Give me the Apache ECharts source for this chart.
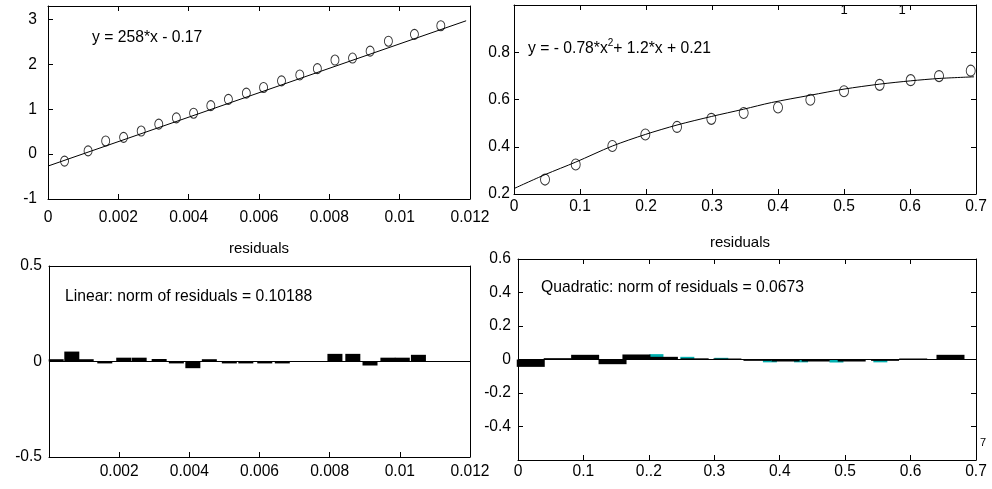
<!DOCTYPE html>
<html><head><meta charset="utf-8">
<script src="https://cdn.jsdelivr.net/npm/echarts@6/dist/echarts.min.js"></script>
<style>html,body{margin:0;padding:0;background:#fff}#c{width:992px;height:489px}</style>
</head><body><div id="c"></div>
<script>
// ---- Data ----
// Top-left: linear fit
const tlX = [0.00047, 0.00114, 0.00164, 0.00215, 0.00265, 0.00315, 0.00365, 0.00414, 0.00463, 0.00513, 0.00564, 0.00613, 0.00664, 0.00716, 0.00766, 0.00816, 0.00866, 0.00916, 0.00968, 0.01042, 0.01117];
const tlY = [-0.156, 0.072, 0.293, 0.374, 0.514, 0.668, 0.808, 0.911, 1.080, 1.220, 1.360, 1.485, 1.632, 1.764, 1.904, 2.096, 2.140, 2.294, 2.515, 2.669, 2.861];
const tlFitX = [0, 0.01189];
const tlFitY = [-0.266, 2.971];
// Top-right: quadratic fit
const trX = [0.047, 0.0935, 0.149, 0.199, 0.247, 0.299, 0.348, 0.400, 0.449, 0.500, 0.554, 0.601, 0.644, 0.692];
const trY = [0.261, 0.325, 0.403, 0.452, 0.484, 0.518, 0.543, 0.566, 0.599, 0.635, 0.662, 0.682, 0.699, 0.722];
const trFitX = [0, 0.047, 0.0935, 0.149, 0.199, 0.247, 0.299, 0.348, 0.390, 0.449, 0.500, 0.554, 0.601, 0.644, 0.697];
const trFitY = [0.223, 0.282, 0.335, 0.403, 0.452, 0.492, 0.528, 0.559, 0.587, 0.618, 0.644, 0.665, 0.679, 0.689, 0.696];
// Bottom-left: linear residuals
const blX = [0.000205, 0.00065, 0.00106, 0.00159, 0.00213, 0.00257, 0.00314, 0.00363, 0.0041, 0.00457, 0.00514, 0.00561, 0.00615, 0.00665, 0.00815, 0.00866, 0.00915, 0.00966, 0.01007, 0.01053];
const blY = [0.012, 0.052, 0.012, -0.01, 0.02, 0.02, 0.013, -0.01, -0.035, 0.012, -0.01, -0.01, -0.01, -0.01, 0.04, 0.04, -0.021, 0.02, 0.02, 0.035];
// Bottom-right: quadratic residuals (black) and overlapping cyan bars
const brX = [0.0195, 0.0607, 0.1026, 0.1445, 0.181, 0.223, 0.270, 0.320, 0.366, 0.409, 0.455, 0.510, 0.561, 0.604, 0.661];
const brY = [-0.044, 0.008, 0.028, -0.028, 0.03, 0.016, 0.007, 0.006, -0.008, -0.012, -0.012, -0.012, -0.008, 0.006, 0.028];
const brCyanX = [0.2116, 0.2588, 0.3107, 0.385, 0.4326, 0.4867, 0.5538, 0.6624];
const brCyanY = [0.032, 0.016, 0.01, -0.017, -0.017, -0.018, -0.017, 0.012];
// Tick labels
const brXTickLabels = ['0', '0.1', '0..2', '0.3', '0.4', '0.5', '0.6', '0.7'];
// Texts
const tlEquation = 'y = 258*x - 0.17';
const trEquation = 'y = - 0.78*x{sup|2}+ 1.2*x + 0.21';
const blNorm = 'Linear: norm of residuals = 0.10188';
const brNorm = 'Quadratic: norm of residuals = 0.0673';
const resTitle = 'residuals';

const FONT = '"Liberation Sans", Arial, Helvetica, sans-serif';
const zip = (a, b) => a.map((v, i) => [v, b[i]]);

function ax(o) {
  return Object.assign({
    type: 'value',
    axisLine: { show: true, onZero: false, lineStyle: { color: '#000', width: 1 } },
    splitLine: { show: false }
  }, o, {
    axisTick: Object.assign({ show: true, inside: true, length: 5, lineStyle: { color: '#000' } }, o.axisTick || {}),
    axisLabel: Object.assign({ show: true, color: '#000', fontSize: 15.6, fontFamily: FONT }, o.axisLabel || {})
  });
}

const zeroLine = {
  silent: true, symbol: ['none', 'none'], label: { show: false },
  lineStyle: { color: '#000', width: 1, type: 'solid' },
  data: [{ yAxis: 0 }]
};

const option = {
  animation: false,
  backgroundColor: '#fff',
  grid: [
    { left: 48, right: 522, top: 6, bottom: 290 },
    { left: 514, right: 16, top: 5, bottom: 295 },
    { left: 49, right: 522, top: 266, bottom: 32 },
    { left: 518, right: 16, top: 259, bottom: 29 }
  ],
  xAxis: [
    ax({ gridIndex: 0, position: 'bottom', min: 0, max: 0.012, interval: 0.002, axisLabel: { margin: 11 } }),
    ax({ gridIndex: 0, position: 'top', min: 0, max: 0.012, interval: 0.002, axisLabel: { show: false } }),
    ax({ gridIndex: 1, position: 'bottom', min: 0, max: 0.7, interval: 0.1, axisLabel: { margin: 5 } }),
    ax({ gridIndex: 1, position: 'top', min: 0, max: 0.7, interval: 0.1, axisLabel: { show: false } }),
    ax({ gridIndex: 2, position: 'bottom', min: 0, max: 0.012, interval: 0.002, axisLabel: { margin: 7, showMinLabel: false } }),
    ax({ gridIndex: 2, position: 'top', min: 0, max: 0.012, interval: 0.002, axisTick: { show: false }, axisLabel: { show: false } }),
    ax({ gridIndex: 3, position: 'bottom', min: 0, max: 0.7, interval: 0.1,
         axisLabel: { margin: 4, formatter: v => brXTickLabels[Math.round(v * 10)] } }),
    ax({ gridIndex: 3, position: 'top', min: 0, max: 0.7, interval: 0.1, axisLabel: { show: false } })
  ],
  yAxis: [
    ax({ gridIndex: 0, position: 'left', min: -1, max: 3.3, interval: 1, axisLabel: { margin: 11, showMaxLabel: false } }),
    ax({ gridIndex: 0, position: 'right', min: -1, max: 3.3, interval: 1, axisTick: { show: false }, axisLabel: { show: false } }),
    ax({ gridIndex: 1, position: 'left', min: 0.2, max: 1.0, interval: 0.2, axisLabel: { margin: 4, showMaxLabel: false } }),
    ax({ gridIndex: 1, position: 'right', min: 0.2, max: 1.0, interval: 0.2, axisLabel: { show: false } }),
    ax({ gridIndex: 2, position: 'left', min: -0.5, max: 0.5, interval: 0.5, axisTick: { show: false }, axisLabel: { margin: 7 } }),
    ax({ gridIndex: 2, position: 'right', min: -0.5, max: 0.5, interval: 0.5, axisTick: { show: false }, axisLabel: { show: false } }),
    ax({ gridIndex: 3, position: 'left', min: -0.6, max: 0.6, interval: 0.2, axisLabel: { margin: 7, showMinLabel: false } }),
    ax({ gridIndex: 3, position: 'right', min: -0.6, max: 0.6, interval: 0.2, axisLabel: { show: false } })
  ],
  series: [
    { type: 'line', xAxisIndex: 0, yAxisIndex: 0, data: zip(tlFitX, tlFitY), showSymbol: false,
      lineStyle: { color: '#000', width: 1 }, silent: true },
    { type: 'scatter', xAxisIndex: 0, yAxisIndex: 0, data: zip(tlX, tlY), symbol: 'circle', symbolSize: [8, 10],
      itemStyle: { color: 'rgba(0,0,0,0)', borderColor: '#000', borderWidth: 1 } },
    { type: 'line', xAxisIndex: 2, yAxisIndex: 2, data: zip(trFitX, trFitY), showSymbol: false, smooth: 0.3,
      lineStyle: { color: '#000', width: 1 }, silent: true },
    { type: 'scatter', xAxisIndex: 2, yAxisIndex: 2, data: zip(trX, trY), symbol: 'circle', symbolSize: [9, 11],
      itemStyle: { color: 'rgba(0,0,0,0)', borderColor: '#000', borderWidth: 1 } },
    { type: 'bar', xAxisIndex: 4, yAxisIndex: 4, data: zip(blX, blY), barWidth: 15,
      itemStyle: { color: '#000' }, markLine: zeroLine },
    { type: 'bar', xAxisIndex: 7, yAxisIndex: 6, data: zip(brCyanX, brCyanY), barWidth: 14,
      itemStyle: { color: '#00b0b0' } },
    { type: 'bar', xAxisIndex: 6, yAxisIndex: 6, data: zip(brX, brY), barWidth: 28,
      itemStyle: { color: '#000' }, markLine: zeroLine }
  ],
  graphic: [
    { type: 'text', x: 92, y: 38, style: { text: tlEquation, font: '15.7px ' + FONT, fill: '#000', verticalAlign: 'middle' } },
    { type: 'text', x: 528, y: 49, style: { text: trEquation, font: '15.7px ' + FONT, fill: '#000', verticalAlign: 'middle',
        lineHeight: 22, rich: { sup: { fontSize: 10, fontFamily: FONT, lineHeight: 10, verticalAlign: 'top', fill: '#000' } } } },
    { type: 'text', x: 65, y: 297, style: { text: blNorm, font: '15.7px ' + FONT, fill: '#000', verticalAlign: 'middle' } },
    { type: 'text', x: 541, y: 288, style: { text: brNorm, font: '15.7px ' + FONT, fill: '#000', verticalAlign: 'middle' } },
    { type: 'text', x: 259, y: 249, style: { text: resTitle, font: '15px ' + FONT, fill: '#000', align: 'center', verticalAlign: 'middle' } },
    { type: 'text', x: 740, y: 243, style: { text: resTitle, font: '15px ' + FONT, fill: '#000', align: 'center', verticalAlign: 'middle' } },
    { type: 'text', x: 844, y: 10, style: { text: '1', font: '13px ' + FONT, fill: '#000', align: 'center', verticalAlign: 'middle' } },
    { type: 'text', x: 902, y: 10, style: { text: '1', font: '13px ' + FONT, fill: '#000', align: 'center', verticalAlign: 'middle' } },
    { type: 'text', x: 983, y: 443, style: { text: '7', font: '11px ' + FONT, fill: '#000', align: 'center', verticalAlign: 'middle' } }
  ]
};

const chart = echarts.init(document.getElementById('c'), null, { renderer: 'canvas' });
chart.setOption(option);
</script>
</body></html>
